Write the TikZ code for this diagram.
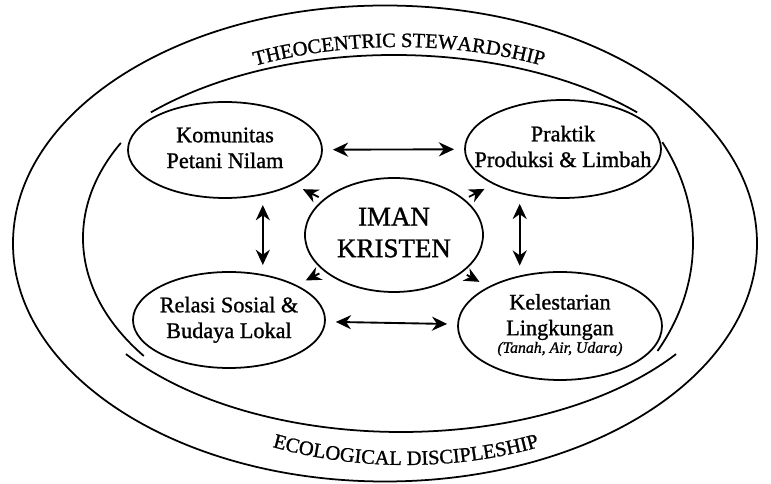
\documentclass[tikz,border=0pt]{standalone}
\usepackage{fontspec}
\setmainfont{Liberation Serif}[FakeBold=1.1]
\usetikzlibrary{shapes.geometric, arrows.meta, decorations.text}
\newcommand{\blobtext}[1]{\makebox[0pt]{\begin{tabular}{@{}c@{}}#1\end{tabular}}}
\tikzset{
  ring/.style={line width=1.5pt},
  blob/.style={draw, ellipse, line width=1.5pt, inner sep=0pt, font=\fontsize{19}{22}\selectfont},
  twoway/.style={{Stealth[length=13pt,width=12pt]}-{Stealth[length=13pt,width=12pt]}, line width=1.6pt, shorten <=0.3cm, shorten >=0.3cm},
  radiate/.style={-{Stealth[length=13pt,width=12pt]}, line width=1.6pt, shorten <=0.15cm, shorten >=0.3cm}
}
\begin{document}
\begin{tikzpicture}[x=0.03cm, y=0.03cm]
\useasboundingbox (-385,-241) rectangle (386,243);
\draw[ring] (0,-0.5) ellipse[x radius=372, y radius=238];
\draw[ring] (9,0) ++(136:338 and 188) arc[start angle=136, end angle=44, x radius=338, y radius=188];
\draw[ring] (0,5) ++(151:302 and 196) arc[start angle=151, end angle=217, x radius=302, y radius=196];
\draw[ring] (16,0) ++(216:340 and 189) arc[start angle=216, end angle=324, x radius=340, y radius=189];
\draw[ring] (5,0) ++(26:303 and 230) arc[start angle=26, end angle=-28, x radius=303, y radius=230];
\path[decorate, decoration={text along path, text align=center, text={|\fontsize{17.5}{20}\selectfont|THEOCENTRIC STEWARDSHIP}}]
  (14,0) ++(180:337 and 196) arc[start angle=180, end angle=0, x radius=337, y radius=196];
\path[decorate, decoration={text along path, text align=center, text={|\fontsize{17.5}{20}\selectfont|ECOLOGICAL DISCIPLESHIP}}]
  (21,0) ++(180:337 and 222) arc[start angle=180, end angle=360, x radius=337, y radius=222];
\node[blob, minimum width=5.82cm, minimum height=2.88cm] (kom) at (-160,93) {\blobtext{Komunitas\\Petani Nilam}};
\node[blob, minimum width=5.88cm, minimum height=2.94cm] (prak) at (178,94) {\blobtext{Praktik\\Produksi \& Limbah}};
\node[blob, minimum width=5.76cm, minimum height=2.88cm] (rel) at (-156,-77) {\blobtext{Relasi Sosial \&\\Budaya Lokal}};
\node[blob, minimum width=6.12cm, minimum height=3.24cm] (kel) at (175,-83) {\blobtext{Kelestarian\\Lingkungan\\[-7pt]{\fontsize{13.5}{15}\selectfont\itshape (Tanah, Air, Udara)}}};
\node[blob, minimum width=5.34cm, minimum height=3.42cm, font=\fontsize{23}{27}\selectfont] (iman) at (9,8) {\blobtext{IMAN\\KRISTEN}};
\draw[twoway] (kom) -- (prak);
\draw[twoway] (rel) -- (kel);
\draw[twoway] (kom.-50) -- (kom.-50 |- rel.50);
\draw[twoway] (prak.-134) -- (prak.-134 |- kel.129);
\foreach \n in {kom,prak,rel,kel}
  \draw[radiate] (iman) -- (\n);
\end{tikzpicture}
\end{document}
